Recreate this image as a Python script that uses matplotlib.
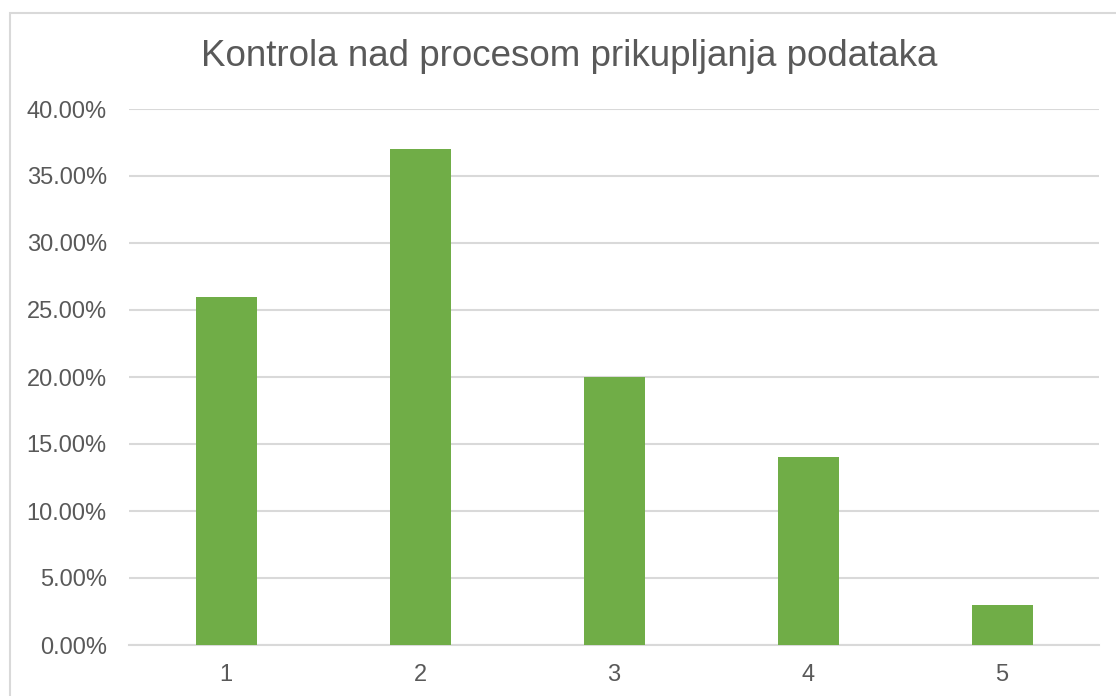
import matplotlib
matplotlib.use("Agg")
import matplotlib.pyplot as plt
from matplotlib.patches import Rectangle
from matplotlib.ticker import FuncFormatter, MultipleLocator

categories = ["1", "2", "3", "4", "5"]
values = [0.26, 0.37, 0.20, 0.14, 0.03]
title = "Kontrola nad procesom prikupljanja podataka"

plt.rcParams['font.family'] = ['Liberation Sans', 'DejaVu Sans']

W, H = 1116, 696
fig = plt.figure(figsize=(W / 100, H / 100), dpi=100)
fig.patch.set_facecolor('white')

# chart border (extends beyond right/bottom edges)
fig.patches.append(Rectangle((10 / W, -0.1), 1.2, 1 - 13 / H + 0.1,
                             transform=fig.transFigure, fill=False,
                             edgecolor='#d9d9d9', linewidth=1.5))

ax = fig.add_axes([129 / W, 51 / H, (1099 - 129) / W, (645 - 109) / H])
x = list(range(len(categories)))
ax.bar(x, values, width=61 / 194, color='#70AD47', zorder=3)
ax.set_xlim(-0.5, len(categories) - 0.5)
ax.set_ylim(0, 0.40)
ax.yaxis.set_major_locator(MultipleLocator(0.05))
ax.yaxis.set_major_formatter(FuncFormatter(lambda v, p: f"{v*100:.2f}%"))
ax.set_xticks(x)
ax.set_xticklabels(categories)
ax.grid(axis='y', color='#d9d9d9', linewidth=1.5, zorder=0)
for s in ['top', 'right', 'left']:
    ax.spines[s].set_visible(False)
ax.spines['bottom'].set_color('#d9d9d9')
ax.spines['bottom'].set_linewidth(1.5)
ax.tick_params(axis='both', length=0, labelsize=17, colors='#595959')
ax.tick_params(axis='y', pad=16)
ax.tick_params(axis='x', pad=14)

fig.text(569 / W, 1 - 57 / H, title, ha='center', va='center',
         fontsize=26.5, color='#595959')

fig.savefig("out.png", dpi=100)
